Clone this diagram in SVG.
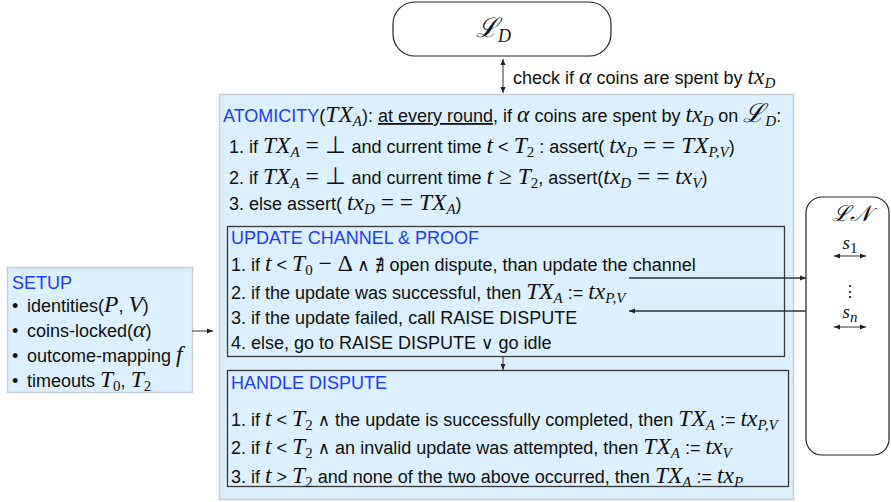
<svg xmlns="http://www.w3.org/2000/svg" width="891" height="502" viewBox="0 0 891 502">
<style>
text{font-family:"Liberation Sans",Arial,sans-serif;font-size:18px;fill:#111}
.m{font-family:"Liberation Serif","Times New Roman",serif;font-style:italic;font-size:23.5px}
.r{font-family:"Liberation Serif","Times New Roman",serif;font-style:normal;font-size:23.5px}
.op{font-family:"DejaVu Serif",serif;font-style:normal;font-size:17px}
.sb{font-size:15px}
.h{fill:#1e3cff}
.pane{fill:#dbeffc;stroke:#c5cfd8;stroke-width:1.5}
.inner{fill:#dbeffc;stroke:#3a3a3a;stroke-width:1.3}
.node{fill:#fff;stroke:#222;stroke-width:1.2}
.ln{stroke:#333;stroke-width:1.3;fill:none}
</style>
<defs>
<marker id="ah" markerWidth="8" markerHeight="8" refX="7" refY="4" orient="auto-start-reverse" markerUnits="userSpaceOnUse">
<path d="M1,1.5 L7,4 L1,6.5 Z" fill="#222"/>
</marker>
</defs>

<g id="LD">
<rect class="node" x="393" y="2" width="218" height="54" rx="22"/>
<text x="476" y="37" class="m" style="font-size:27px">ℒ<tspan class="sb" style="font-size:18px" dy="5">D</tspan></text>
</g>

<g id="atomicity">
<rect class="pane" x="219.5" y="94.5" width="574" height="405"/>
<text x="223" y="122"><tspan class="h">ATOMICITY</tspan>(<tspan class="m">TX</tspan><tspan class="m sb" dy="4">A</tspan><tspan dy="-4">): </tspan><tspan text-decoration="underline">at every round</tspan>, if <tspan class="m">α</tspan> coins are spent by <tspan class="m">tx</tspan><tspan class="m sb" dy="4">D</tspan><tspan dy="-4"> on </tspan><tspan class="m" style="font-size:26px">ℒ</tspan><tspan class="m sb" dy="4">D</tspan><tspan dy="-4">:</tspan></text>
<text x="229" y="153">1. if <tspan class="m">TX</tspan><tspan class="m sb" dy="4">A</tspan><tspan class="r" dy="-4"> = ⊥ </tspan>and current time <tspan class="m">t</tspan> &lt; <tspan class="m">T</tspan><tspan class="r sb" dy="4">2</tspan><tspan dy="-4"> : assert( </tspan><tspan class="m">tx</tspan><tspan class="m sb" dy="4">D</tspan><tspan class="r" dy="-4"> = = </tspan><tspan class="m">TX</tspan><tspan class="m sb" dy="4">P,V</tspan><tspan dy="-4">)</tspan></text>
<text x="229" y="184">2. if <tspan class="m">TX</tspan><tspan class="m sb" dy="4">A</tspan><tspan class="r" dy="-4"> = ⊥ </tspan>and current time <tspan class="m">t</tspan><tspan class="r"> ≥ </tspan><tspan class="m">T</tspan><tspan class="r sb" dy="4">2</tspan><tspan dy="-4">, assert(</tspan><tspan class="m">tx</tspan><tspan class="m sb" dy="4">D</tspan><tspan class="r" dy="-4"> = = </tspan><tspan class="m">tx</tspan><tspan class="m sb" dy="4">V</tspan><tspan dy="-4">)</tspan></text>
<text x="229" y="210">3. else assert( <tspan class="m">tx</tspan><tspan class="m sb" dy="4">D</tspan><tspan class="r" dy="-4"> = = </tspan><tspan class="m">TX</tspan><tspan class="m sb" dy="4">A</tspan><tspan dy="-4">)</tspan></text>
</g>

<g id="update">
<rect class="inner" x="227.5" y="226.5" width="557" height="130"/>
<text x="231" y="244" class="h">UPDATE CHANNEL &amp; PROOF</text>
<text x="231" y="271">1. if <tspan class="m">t</tspan> &lt; <tspan class="m">T</tspan><tspan class="r sb" dy="4">0</tspan><tspan class="r" dy="-4"> − Δ </tspan><tspan class="op">∧ ∄</tspan> open dispute, than update the channel</text>
<text x="231" y="299">2. if the update was successful, then <tspan class="m">TX</tspan><tspan class="m sb" dy="4">A</tspan><tspan dy="-4"> := </tspan><tspan class="m">tx</tspan><tspan class="m sb" dy="4">P,V</tspan></text>
<text x="231" y="324">3. if the update failed, call RAISE DISPUTE</text>
<text x="231" y="349">4. else, go to RAISE DISPUTE <tspan class="op">∨</tspan> go idle</text>
</g>

<g id="handle">
<rect class="inner" x="227.5" y="370.5" width="561" height="116"/>
<text x="231" y="389" class="h">HANDLE DISPUTE</text>
<text x="231" y="426">1. if <tspan class="m">t</tspan> &lt; <tspan class="m">T</tspan><tspan class="r sb" dy="4">2</tspan><tspan dy="-4"> </tspan><tspan class="op">∧</tspan> the update is successfully completed, then <tspan class="m">TX</tspan><tspan class="m sb" dy="4">A</tspan><tspan dy="-4"> := </tspan><tspan class="m">tx</tspan><tspan class="m sb" dy="4">P,V</tspan></text>
<text x="231" y="454">2. if <tspan class="m">t</tspan> &lt; <tspan class="m">T</tspan><tspan class="r sb" dy="4">2</tspan><tspan dy="-4"> </tspan><tspan class="op">∧</tspan> an invalid update was attempted, then <tspan class="m">TX</tspan><tspan class="m sb" dy="4">A</tspan><tspan dy="-4"> := </tspan><tspan class="m">tx</tspan><tspan class="m sb" dy="4">V</tspan></text>
<text x="231" y="483">3. if <tspan class="m">t</tspan> &gt; <tspan class="m">T</tspan><tspan class="r sb" dy="4">2</tspan><tspan dy="-4"> and none of the two above occurred, then </tspan><tspan class="m">TX</tspan><tspan class="m sb" dy="4">A</tspan><tspan dy="-4"> := </tspan><tspan class="m">tx</tspan><tspan class="m sb" dy="4">P</tspan></text>
</g>

<g id="setup">
<rect class="pane" x="7.5" y="267.5" width="185" height="125"/>
<text x="12" y="289" class="h">SETUP</text>
<text x="12" y="312">•</text><text x="27" y="312">identities(<tspan class="m">P</tspan>, <tspan class="m">V</tspan>)</text>
<text x="12" y="337">•</text><text x="27" y="337">coins-locked(<tspan class="m">α</tspan>)</text>
<text x="12" y="362">•</text><text x="27" y="362">outcome-mapping <tspan class="m">f</tspan></text>
<text x="12" y="387">•</text><text x="27" y="387">timeouts <tspan class="m">T</tspan><tspan class="r sb" dy="4">0</tspan><tspan dy="-4">, </tspan><tspan class="m">T</tspan><tspan class="r sb" dy="4">2</tspan></text>
</g>

<g id="LN">
<rect class="node" x="806" y="197" width="83" height="258" rx="16"/>
<text x="851" y="221" text-anchor="middle" class="m" style="font-size:22px">ℒ𝒩</text>
<text x="850" y="249" text-anchor="middle" class="m" style="font-size:19px">s<tspan class="r sb" dy="4">1</tspan></text>
<line class="ln" x1="834" y1="256" x2="866" y2="256" marker-start="url(#ah)" marker-end="url(#ah)" style="stroke-width:1"/>
<text x="850" y="297" text-anchor="middle" style="font-size:16px">⋮</text>
<text x="850" y="318" text-anchor="middle" class="m" style="font-size:19px">s<tspan class="m sb" dy="4">n</tspan></text>
<line class="ln" x1="834" y1="327" x2="866" y2="327" marker-start="url(#ah)" marker-end="url(#ah)" style="stroke-width:1"/>
</g>

<g id="connectors">
<line class="ln" x1="503" y1="59" x2="503" y2="93" marker-start="url(#ah)" marker-end="url(#ah)" style="stroke-width:1"/>
<text x="513" y="84">check if <tspan class="m">α</tspan> coins are spent by <tspan class="m">tx</tspan><tspan class="m sb" dy="4">D</tspan></text>
<line class="ln" x1="192" y1="331" x2="213" y2="331" marker-end="url(#ah)" style="stroke-width:1"/>
<line class="ln" x1="629" y1="278" x2="806" y2="278" marker-end="url(#ah)"/>
<line class="ln" x1="806" y1="311" x2="629" y2="311" marker-end="url(#ah)"/>
<line class="ln" x1="503" y1="357" x2="503" y2="370" marker-end="url(#ah)" style="stroke-width:1"/>
</g>
</svg>
